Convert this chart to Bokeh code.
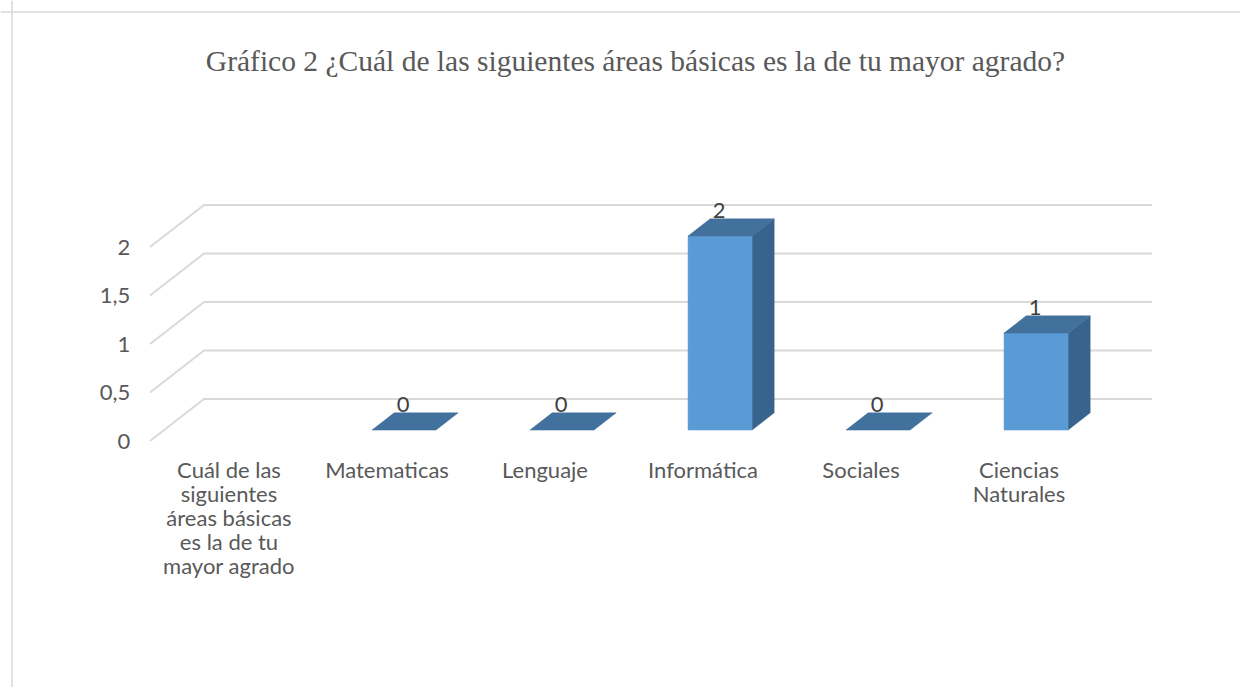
import math
from bokeh.plotting import figure
from bokeh.models import Range1d, Span, ColumnDataSource
from bokeh.core.properties import value
from bokeh.embed import file_html
from bokeh.resources import INLINE

# ---------------- data ----------------
title_text = "Gráfico 2 ¿Cuál de las siguientes áreas básicas es la de tu mayor agrado?"
categories = ["Cuál de las siguientes áreas básicas es la de tu mayor agrado",
              "Matematicas", "Lenguaje", "Informática", "Sociales", "Ciencias Naturales"]
category_labels = ["Cuál de las\nsiguientes\náreas básicas\nes la de tu\nmayor agrado",
                   "Matematicas", "Lenguaje", "Informática", "Sociales", "Ciencias\nNaturales"]
values = [float("nan"), 0, 0, 2, 0, 1]
y_ticks = [0, 0.5, 1, 1.5, 2]
y_tick_labels = ["0", "0,5", "1", "1,5", "2"]

# ---------------- layout ----------------
W, H = 1240, 687
X0, Y0 = 149.5, 440.5      # canvas px of the front-left floor corner
CW, VH = 158.0, 97.0       # px per category, px per value unit
DX, DY = 54.0 / CW, 42.0 / VH   # full depth offset in data units
D0, D1 = 0.26, 0.67        # bar depth span (fraction of floor depth)
BW = 64.0 / CW             # bar width
BOFF = 3.0 / CW
NC = len(categories)

FRONT = "#5B9BD5"
TOP = "#41719C"
SIDE = "#38638C"
GRID = "#D9D9D9"
TXT = "#595959"

p = figure(width=W, height=H,
           x_range=Range1d(-X0 / CW, (W - X0) / CW),
           y_range=Range1d((Y0 - H) / VH, Y0 / VH),
           output_backend="svg", toolbar_location=None,
           x_axis_location=None, y_axis_location=None,
           min_border=0, min_border_left=0, min_border_right=0,
           min_border_top=0, min_border_bottom=0)
p.grid.visible = False
p.outline_line_color = None
p.background_fill_color = "white"
p.border_fill_color = "white"

# chart border (top / left)
p.add_layout(Span(location=(Y0 - 11.5) / VH, dimension="width", line_color=GRID, line_width=1.5))
p.add_layout(Span(location=(11.5 - X0) / CW, dimension="height", line_color=GRID, line_width=1.5))

# gridlines (side wall diagonal + back wall)
gx = [[0, DX, NC + DX] for t in y_ticks]
gy = [[t, t + DY, t + DY] for t in y_ticks]
p.multi_line(gx, gy, line_color=GRID, line_width=2)

# y tick labels
p.text(x=[-0.125] * len(y_ticks), y=y_ticks, text=y_tick_labels,
       text_align="right", text_baseline="middle", text_color=TXT,
       text_font=value("Lato"), text_font_size="22px")

# bars
front = dict(left=[], right=[], bottom=[], top=[])
tops_x, tops_y, sides_x, sides_y = [], [], [], []
lab_x, lab_y, lab_t = [], [], []
for i, v in enumerate(values):
    if v is None or (isinstance(v, float) and math.isnan(v)):
        continue
    xl = i + 0.5 + BOFF - BW / 2
    xr = xl + BW
    if v > 0:
        front["left"].append(xl + DX * D0)
        front["right"].append(xr + DX * D0)
        front["bottom"].append(DY * D0)
        front["top"].append(v + DY * D0)
        sides_x.append([xr + DX * D0, xr + DX * D1, xr + DX * D1, xr + DX * D0])
        sides_y.append([DY * D0, DY * D1, v + DY * D1, v + DY * D0])
    tops_x.append([xl + DX * D0, xr + DX * D0, xr + DX * D1, xl + DX * D1])
    tops_y.append([v + DY * D0, v + DY * D0, v + DY * D1, v + DY * D1])
    lab_x.append(i + 0.5 + BOFF + DX * D0 - 1.0 / CW)
    lab_y.append(v + DY * D1 + 8.0 / VH)
    lab_t.append(f"{v:g}")

p.patches(sides_x, sides_y, fill_color=SIDE, line_color=SIDE, line_width=0.5)
p.quad(source=ColumnDataSource(front), left="left", right="right", bottom="bottom", top="top",
       fill_color=FRONT, line_color=FRONT, line_width=0.5)
p.patches(tops_x, tops_y, fill_color=TOP, line_color=TOP, line_width=0.5)

# value labels
p.text(x=lab_x, y=lab_y, text=lab_t, text_align="center", text_baseline="middle",
       text_color="#404040", text_font=value("Lato"), text_font_size="22px")

# category labels
p.text(x=[i + 0.5 for i in range(NC)], y=[-15.0 / VH] * NC, text=category_labels,
       text_align="center", text_baseline="top", text_color=TXT,
       text_font=value("Lato"), text_font_size="22px", text_line_height=0.885)

# title
p.text(x=[(635 - X0) / CW], y=[(Y0 - 60) / VH], text=[title_text],
       text_align="center", text_baseline="middle", text_color=TXT,
       text_font=value("Liberation Serif"), text_font_size="29.5px")

open("out.html", "w").write(file_html(p, INLINE))
